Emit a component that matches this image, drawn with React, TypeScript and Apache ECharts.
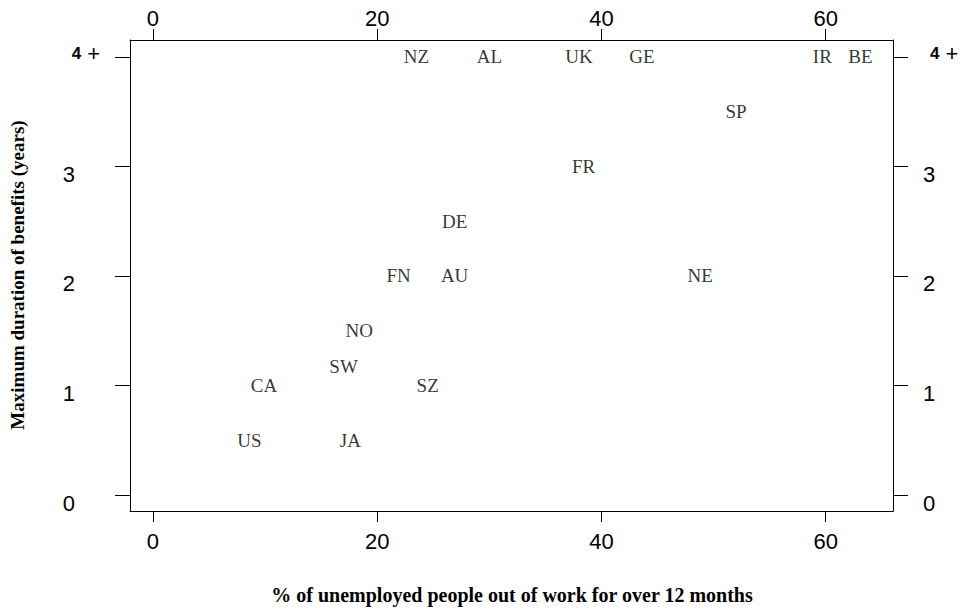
import React, { useEffect, useRef } from "react";
import * as echarts from "echarts";

const countryCodes = ["NZ", "AL", "UK", "GE", "IR", "BE", "SP", "FR", "DE", "FN", "AU", "NE", "NO", "SW", "CA", "SZ", "US", "JA"];
const longTermUnemployedPct = [23.5, 30, 38, 43.6, 59.7, 63.1, 52, 38.4, 26.9, 21.9, 26.9, 48.8, 18.4, 17, 9.9, 24.5, 8.6, 17.6];
const maxBenefitYears = [4, 4, 4, 4, 4, 4, 3.5, 3, 2.5, 2, 2, 2, 1.5, 1.17, 1, 1, 0.5, 0.5];
const xTicks = [0, 20, 40, 60];
const yTicks = [0, 1, 2, 3, 4];
const xTitle = "% of unemployed people out of work for over 12 months";
const yTitle = "Maximum duration of benefits (years)";

export default function App() {
  const ref = useRef<HTMLDivElement>(null);
  useEffect(() => {
    if (!ref.current) return;
    const chart = echarts.init(ref.current, undefined, { renderer: "svg" });
    const X_MIN = -2.05, X_MAX = 66.0, Y_MIN = -0.146, Y_MAX = 4.155;
    const sans = "'Liberation Sans', Arial, sans-serif";
    const serif = "'Liberation Serif', 'Times New Roman', serif";
    const xAxisBase = (position: string, margin: number) => ({
      type: "value",
      position,
      min: X_MIN,
      max: X_MAX,
      splitLine: { show: false },
      axisLine: { show: true, onZero: false, lineStyle: { color: "#000", width: 1 } },
      axisTick: { show: true, inside: false, length: 11, customValues: xTicks, lineStyle: { color: "#000" } },
      axisLabel: {
        show: true,
        customValues: xTicks,
        margin,
        color: "#000",
        fontFamily: sans,
        fontSize: 22,
      },
    });
    const yLabelFmt = (v: number) => {
      if (v === 4) return "{b|4}{p|+}";
      return "{n|" + v + "}";
    };
    const yAxisBase = (position: string) => ({
      type: "value",
      position,
      min: Y_MIN,
      max: Y_MAX,
      splitLine: { show: false },
      axisLine: { show: true, onZero: false, lineStyle: { color: "#000", width: 1 } },
      axisTick: { show: true, inside: false, length: 15, customValues: yTicks, lineStyle: { color: "#000" } },
      axisLabel: {
        show: true,
        customValues: yTicks,
        margin: position === "left" ? 30 : 30,
        align: position === "left" ? "right" : "left",
        color: "#000",
        fontFamily: sans,
        fontSize: 22,
        formatter: yLabelFmt,
        rich: {
          n: {
            fontFamily: sans,
            fontSize: 22,
            color: "#000",
            padding: position === "left" ? [16, 25, 0, 0] : [16, 0, 0, 0],
          },
          b: {
            fontFamily: sans,
            fontSize: 17,
            fontWeight: "bold",
            color: "#000",
            padding: position === "left" ? [0, 6, 6, 0] : [0, 6, 6, 7],
          },
          p: {
            fontFamily: sans,
            fontSize: 22,
            color: "#000",
            padding: [0, 0, 6, 0],
          },
        },
      },
    });
    const data = countryCodes.map((c, i) => [longTermUnemployedPct[i], maxBenefitYears[i], c]);
    chart.setOption({
      animation: false,
      backgroundColor: "#fff",
      grid: { left: 130, right: 72, top: 40, bottom: 99, containLabel: false },
      xAxis: [xAxisBase("bottom", 19), xAxisBase("top", 11)],
      yAxis: [yAxisBase("left"), yAxisBase("right")],
      series: [
        {
          type: "scatter",
          xAxisIndex: 0,
          yAxisIndex: 0,
          symbolSize: 1,
          itemStyle: { color: "rgba(0,0,0,0)" },
          data,
          label: {
            show: true,
            position: "inside",
            formatter: (p: any) => p.data[2],
            color: "#000",
            fontFamily: serif,
            fontSize: 19,
          },
          emphasis: { disabled: true },
        },
      ],
      graphic: [
        {
          type: "text",
          x: 512,
          y: 595,
          style: {
            text: xTitle,
            fontFamily: serif,
            fontWeight: "bold",
            fontSize: 20,
            fill: "#000",
            align: "center",
            verticalAlign: "middle",
          },
        },
        {
          type: "text",
          x: 17,
          y: 275,
          rotation: Math.PI / 2,
          style: {
            text: yTitle,
            fontFamily: serif,
            fontWeight: "bold",
            fontSize: 19,
            fill: "#000",
            align: "center",
            verticalAlign: "middle",
          },
        },
      ],
    });
    return () => chart.dispose();
  }, []);
  return <div ref={ref} style={{ width: 965, height: 610, position: "absolute", left: 0, top: 0 }} />;
}
